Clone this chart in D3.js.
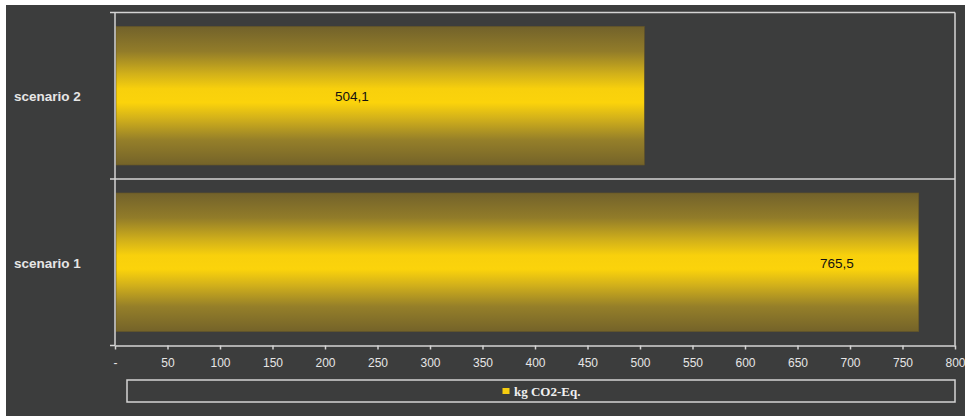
<!DOCTYPE html>
<html>
<head>
<meta charset="utf-8">
<script src="https://cdn.jsdelivr.net/npm/d3@7/dist/d3.min.js"></script>
<style>
  html, body { margin: 0; padding: 0; background: #ffffff; }
  svg { display: block; }
</style>
</head>
<body>
<svg id="chart" width="965" height="416"></svg>
<script>
// Chart data
const categories = ["scenario 2", "scenario 1"];
const values = [504.1, 765.5];
const valueLabels = ["504,1", "765,5"];
const tickValues = [0, 50, 100, 150, 200, 250, 300, 350, 400, 450, 500, 550, 600, 650, 700, 750, 800];
const tickLabels = ["-", "50", "100", "150", "200", "250", "300", "350", "400", "450", "500", "550", "600", "650", "700", "750", "800"];
const seriesName = "kg CO2-Eq.";
// where each value label sits, in axis units
const labelAnchor = [225.7, 687.6];

const svg = d3.select("#chart");
const W = 965, H = 416;
const plot = { left: 115, right: 955, top: 12.5, bottom: 345.5 };
const lineColor = "#d4d4d4";
const textColor = "#e6e6e6";

// background panel
svg.append("rect").attr("x", 6).attr("y", 5).attr("width", W - 6).attr("height", H - 5)
  .attr("fill", "#3c3d3d");

const x = d3.scaleLinear().domain([0, 800]).range([plot.left, plot.right]);
const y = d3.scaleBand().domain(categories).range([plot.top, plot.bottom])
  .paddingInner(0.168).paddingOuter(0.084);

// bar gradient: dark olive at the edges, bright yellow in the middle
const defs = svg.append("defs");
const grad = defs.append("linearGradient").attr("id", "barGrad")
  .attr("x1", 0).attr("y1", 0).attr("x2", 0).attr("y2", 1);
[[0, "#72622b"], [0.18, "#927c29"], [0.34, "#d1b01a"], [0.45, "#f8d00c"], [0.55, "#fbd30b"],
 [0.66, "#d4b21a"], [0.82, "#957f29"], [1, "#746329"]]
  .forEach(([o, c]) => grad.append("stop").attr("offset", o).attr("stop-color", c));

// bars
svg.append("g").selectAll("rect").data(categories).join("rect")
  .attr("x", x(0) + 1)
  .attr("y", d => y(d))
  .attr("width", (d, i) => x(values[i]) - x(0) - 1)
  .attr("height", y.bandwidth())
  .attr("fill", "url(#barGrad)")
  .attr("stroke", "#665626")
  .attr("stroke-width", 0.6);

// value labels
svg.append("g").selectAll("text").data(categories).join("text")
  .attr("x", (d, i) => x(labelAnchor[i]))
  .attr("y", d => y(d) + y.bandwidth() / 2 + 2)
  .attr("text-anchor", "middle")
  .attr("dominant-baseline", "middle")
  .attr("font-family", "Liberation Sans, Arial, sans-serif")
  .attr("font-size", 13.5)
  .attr("fill", "#111111")
  .text((d, i) => valueLabels[i]);

// frame: top and right edges
svg.append("line").attr("x1", 110).attr("x2", plot.right).attr("y1", plot.top).attr("y2", plot.top)
  .attr("stroke", lineColor).attr("stroke-width", 1.5);
svg.append("line").attr("x1", plot.right).attr("x2", plot.right).attr("y1", plot.top).attr("y2", plot.bottom)
  .attr("stroke", lineColor).attr("stroke-width", 1.5);

// category separator inside the plot
const sep = (y(categories[0]) + y.bandwidth() + y(categories[1])) / 2;
svg.append("line").attr("x1", 110).attr("x2", plot.right).attr("y1", sep).attr("y2", sep)
  .attr("stroke", lineColor).attr("stroke-width", 1.5);

// left axis line and ticks
svg.append("line").attr("x1", plot.left).attr("x2", plot.left).attr("y1", plot.top).attr("y2", plot.bottom)
  .attr("stroke", lineColor).attr("stroke-width", 1.5);
svg.append("line").attr("x1", 110).attr("x2", plot.left).attr("y1", plot.bottom).attr("y2", plot.bottom)
  .attr("stroke", lineColor).attr("stroke-width", 1.5);

// category labels
svg.append("g").selectAll("text").data(categories).join("text")
  .attr("x", 14)
  .attr("y", d => y(d) + y.bandwidth() / 2 + 2)
  .attr("dominant-baseline", "middle")
  .attr("font-family", "Liberation Sans, Arial, sans-serif")
  .attr("font-weight", "bold")
  .attr("font-size", 13.5)
  .attr("fill", textColor)
  .text(d => d);

// bottom axis
const xAxis = d3.axisBottom(x).tickValues(tickValues)
  .tickFormat((d, i) => tickLabels[i]).tickSize(4).tickPadding(9).tickSizeOuter(0);
const gx = svg.append("g").attr("transform", `translate(0,${plot.bottom})`).call(xAxis);
gx.select(".domain").attr("stroke", lineColor).attr("stroke-width", 1.5);
gx.selectAll(".tick line").attr("stroke", lineColor).attr("stroke-width", 1.5);
gx.selectAll(".tick text")
  .attr("font-family", "Liberation Sans, Arial, sans-serif")
  .attr("font-size", 12)
  .attr("fill", textColor);

// legend
svg.append("rect").attr("x", 127).attr("y", 380).attr("width", 828).attr("height", 22)
  .attr("fill", "none").attr("stroke", lineColor).attr("stroke-width", 1.5);
svg.append("rect").attr("x", 502.5).attr("y", 388).attr("width", 7).attr("height", 6)
  .attr("fill", "#f5cd10");
svg.append("text").attr("x", 514).attr("y", 396)
  .attr("font-family", "Liberation Serif, Times New Roman, serif")
  .attr("font-weight", "bold")
  .attr("font-size", 13)
  .attr("fill", "#f0f0f0")
  .text(seriesName);
</script>
</body>
</html>
